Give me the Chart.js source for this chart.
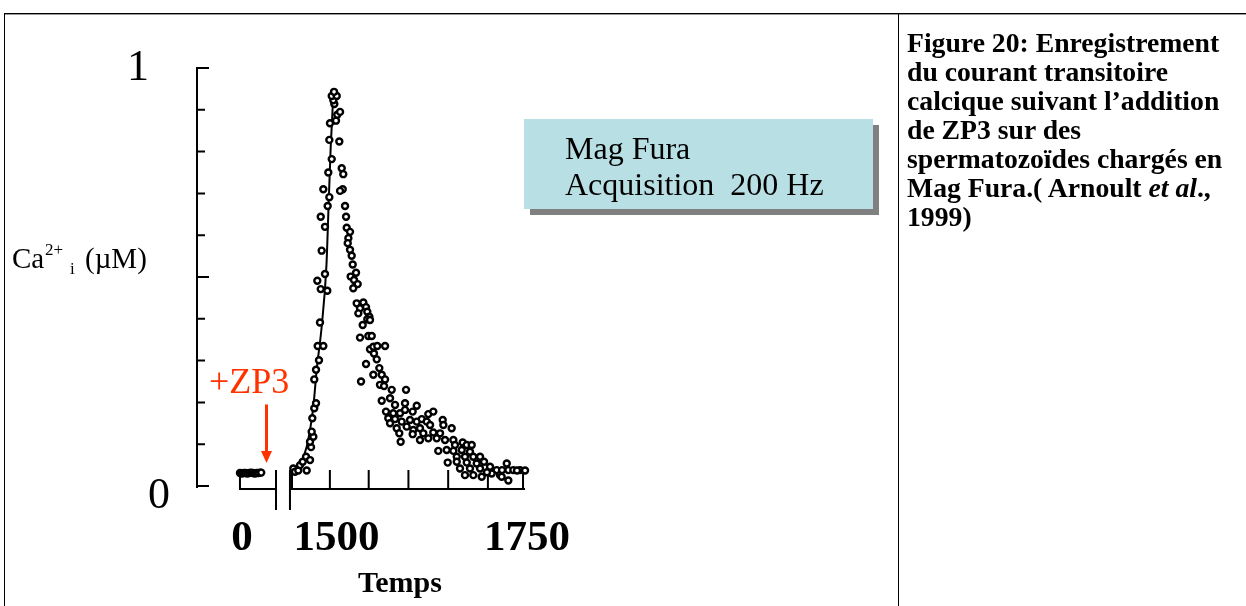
<!DOCTYPE html>
<html>
<head>
<meta charset="utf-8">
<script src="https://cdn.jsdelivr.net/npm/chart.js@4/dist/chart.umd.min.js"></script>
<style>
html,body{margin:0;padding:0;background:#fff;width:1246px;height:606px;overflow:hidden;}
#wrap{position:relative;width:1246px;height:606px;}
#c{position:absolute;left:0;top:0;}
.hl{position:absolute;left:4px;width:1242px;height:1px;}
.vl{position:absolute;top:13px;width:1px;height:593px;background:#000;}
#caption{position:absolute;left:907px;top:28px;white-space:nowrap;font:bold 27.7px "Liberation Serif","Times New Roman",serif;line-height:29px;color:#000;}
#legendBox{position:absolute;left:524px;top:119px;width:349px;height:90px;background:#b8e0e4;box-shadow:6px 6px 0 #808080;}
#legendText{position:absolute;left:41px;top:11px;white-space:nowrap;font:32px "Liberation Serif","Times New Roman",serif;line-height:36px;color:#000;}
</style>
</head>
<body>
<div id="wrap">
  <div class="hl" style="top:13px;background:#000;"></div>
  <div class="hl" style="top:14px;background:#9a9a9a;"></div>
  <div class="vl" style="left:4px;"></div>
  <div class="vl" style="left:898px;"></div>
  <canvas id="c" width="1246" height="606"></canvas>
  <div id="legendBox"><div id="legendText">Mag Fura<br>Acquisition&nbsp; 200 Hz</div></div>
  <div id="caption">Figure 20: Enregistrement<br>du courant transitoire<br>calcique suivant l’addition<br>de ZP3 sur des<br>spermatozoïdes chargés en<br>Mag Fura.( Arnoult <i>et al</i>.,<br>1999)</div>
</div>
<script>
// ---- data ----
const leftTimes  = [0, 2, 4, 6, 8, 10, 12, 14, 16, 18, 20, 22, 23];
const leftValues = [0.031, 0.030, 0.031, 0.031, 0.030, 0.031, 0.032, 0.031, 0.030, 0.031, 0.031, 0.032, 0.032];

const sweepTimes = [
 1501.4,1503.2,1506.8,1508.7,1511.6,1515.2,1515.9,1519.5,1520.6,1519.5,
 1523.1,1521.3,1522.0,1524.1,1526.0,1524.1,1526.0,1529.2,1527.8,1533.9,
 1530.3,1531.1,1538.2,1527.4,1535.7,1532.1,1535.7,1531.1,1538.6,1540.4,
 1533.9,1539.3,1543.0,1540.4,1541.1,1547.6,1549.0,1552.0,1545.8,1544.7,
 1543.0,1548.4,1545.5,
 1551.2,1553.8,1555.5,1554.9,1552.0,1557.4,1558.5,1559.2,1562.8,1561.0,
 1560.3,1562.8,1564.6,1565.7,1569.3,1563.5,1567.1,1571.1,1566.3,1570.0,
 1577.2,1573.6,1580.1,1581.5,1571.8,1583.7,1581.5,1584.4,1576.5,1573.6,
 1582.6,1586.3,1584.4,1588.0,1592.3,1600.7,1588.7,1591.7,1580.1,1594.5,
 1588.0,1597.1,1600.7,1574.7,1595.2,1599.6,1607.9,1623.4,1597.1,1606.1,
 1611.5,1622.3,1635.0,1601.7,1609.6,1616.9,1622.3,1630.6,1647.5,1652.9,
 1604.2,1611.5,1606.1,1618.7,1627.7,1635.0,1640.4,1645.8,1663.1,1613.3,
 1624.1,1631.3,1638.5,1649.4,1663.8,1616.1,1630.6,1642.1,1652.9,1660.2,
 1672.8,1617.6,1638.5,1647.5,1656.6,1665.6,1674.6,1684.7,1676.4,1689.1,
 1694.5,1658.3,1667.4,1674.6,1683.7,1692.6,1678.3,1687.2,1696.2,1703.5,
 1668.5,1678.3,1689.1,1699.9,1707.8,1681.8,1692.6,1703.5,1714.3,1721.5,
 1732.4,1687.2,1696.2,1705.3,1716.1,1725.1,1734.1,1739.5,1746.8,1752.2,
 1734.1,1726.9,1711.0,1727.3,1743.5
];
const sweepValues = [
 0.042,0.034,0.037,0.050,0.058,0.070,0.037,0.062,0.093,0.106,
 0.118,0.130,0.162,0.186,0.198,0.255,0.278,0.301,0.335,0.335,
 0.391,0.471,0.467,0.491,0.507,0.563,0.620,0.644,0.670,0.691,
 0.710,0.750,0.782,0.828,0.868,0.874,0.888,0.895,0.914,0.923,
 0.933,0.933,0.943,
 0.824,0.760,0.746,0.710,0.706,0.670,0.644,0.618,0.608,0.593,
 0.581,0.565,0.551,0.530,0.510,0.501,0.493,0.483,0.473,0.437,
 0.439,0.425,0.428,0.417,0.413,0.405,0.399,0.397,0.385,0.355,
 0.359,0.359,0.327,0.333,0.335,0.335,0.317,0.303,0.292,0.282,
 0.266,0.266,0.255,0.250,0.242,0.239,0.230,0.230,0.204,0.210,
 0.194,0.198,0.192,0.178,0.174,0.174,0.182,0.178,0.172,0.178,
 0.162,0.160,0.150,0.154,0.158,0.154,0.160,0.154,0.158,0.138,
 0.142,0.134,0.138,0.146,0.146,0.126,0.124,0.126,0.128,0.126,
 0.138,0.106,0.110,0.114,0.114,0.110,0.110,0.104,0.098,0.098,
 0.098,0.084,0.086,0.084,0.086,0.082,0.070,0.070,0.070,0.070,
 0.056,0.058,0.056,0.054,0.058,0.042,0.042,0.042,0.046,0.038,
 0.054,0.026,0.026,0.022,0.030,0.026,0.038,0.038,0.038,0.037,
 0.013,0.022,0.033,0.038,0.037
];

const fitTimes  = [1499.7,1508.7,1515.9,1523.1,1526.7,1532.1,1537.3,1539.3,1541.9,1543.0,1544.4];
const fitValues = [0.038,0.053,0.094,0.190,0.278,0.381,0.529,0.652,0.812,0.860,0.923];

const yTickValues   = [0,0.1,0.2,0.3,0.4,0.5,0.6,0.7,0.8,0.9,1];
const yMajorTicks   = [0,0.5,1];
const yLabelValues  = [1,0];
const yLabelTexts   = ['1','0'];
const xLeftTicks    = [0];
const xRightTicks   = [1500,1541,1583,1626,1669,1712,1750];
const xLeftLabels   = ['0'];
const xLeftLabelValues  = [0];
const xRightLabels  = ['1500','1750'];
const xRightLabelValues = [1500,1750];
const leftAxisEnd = 39;        // end of first axis segment (left units)
const rightAxisStart = 1497.8; // start of second segment
const arrowAt = {x: 28.7, from: 0.195, to: 0.055};

// ---- style ----
const SERIF = '"Liberation Serif","Times New Roman",serif';
const RED = '#ff3300';
const yLabelOffset = {'1': {dx:-59, dy:12}, '0': {dx:-38, dy:22}};
const xLabelOffset = {'0': 2, '1500': 44.5, '1750': 4};

const pts = (xs, ys) => xs.map((x, i) => ({x, y: ys[i]}));

const axesPlugin = {
  id: 'brokenAxes',
  beforeDatasetsDraw(chart) {
    const {ctx, chartArea: ca} = chart;
    const y = chart.scales.y, xl = chart.scales.xL, xr = chart.scales.xR;
    const y0 = y.getPixelForValue(0), y1 = y.getPixelForValue(1);
    const base = y0 + 3;
    ctx.save();
    ctx.strokeStyle = '#000';
    ctx.lineWidth = 2;
    ctx.beginPath();
    ctx.moveTo(ca.left, y1 - 1); ctx.lineTo(ca.left, y0 + 2);
    yTickValues.forEach(v => {
      const p = y.getPixelForValue(v);
      const len = yMajorTicks.includes(v) ? 12 : 8;
      ctx.moveTo(ca.left, p); ctx.lineTo(ca.left + len, p);
    });
    ctx.stroke();
    ctx.beginPath();
    ctx.moveTo(xl.getPixelForValue(xLeftTicks[0]), base);
    ctx.lineTo(xl.getPixelForValue(leftAxisEnd), base);
    xLeftTicks.forEach(v => {
      const p = xl.getPixelForValue(v);
      ctx.moveTo(p, base + 1); ctx.lineTo(p, base - 14);
    });
    ctx.moveTo(xr.getPixelForValue(rightAxisStart), base);
    ctx.lineTo(xr.getPixelForValue(xRightTicks[xRightTicks.length - 1]) + 2, base);
    xRightTicks.forEach(v => {
      const p = xr.getPixelForValue(v);
      ctx.moveTo(p, base + 1); ctx.lineTo(p, base - 19);
    });
    [xl.getPixelForValue(leftAxisEnd), xr.getPixelForValue(rightAxisStart)].forEach(p => {
      ctx.moveTo(p, base - 19); ctx.lineTo(p, base + 21);
    });
    ctx.stroke();
    ctx.restore();
  },
  afterDatasetsDraw(chart) {
    const {ctx, chartArea: ca} = chart;
    const y = chart.scales.y, xl = chart.scales.xL, xr = chart.scales.xR;
    const y0 = y.getPixelForValue(0);
    ctx.save();
    ctx.fillStyle = '#000';
    ctx.textBaseline = 'alphabetic';
    ctx.font = '44px ' + SERIF;
    ctx.textAlign = 'center';
    yLabelValues.forEach((v, i) => {
      const t = yLabelTexts[i], o = yLabelOffset[t];
      ctx.fillText(t, ca.left + o.dx, y.getPixelForValue(v) + o.dy);
    });
    ctx.font = 'bold 43px ' + SERIF;
    xLeftLabelValues.forEach((v, i) => {
      const t = xLeftLabels[i];
      ctx.fillText(t, xl.getPixelForValue(v) + xLabelOffset[t], y0 + 64);
    });
    xRightLabelValues.forEach((v, i) => {
      const t = xRightLabels[i];
      ctx.fillText(t, xr.getPixelForValue(v) + xLabelOffset[t], y0 + 64);
    });
    ctx.font = 'bold 30px ' + SERIF;
    ctx.fillText('Temps', 400, y0 + 106);
    // y title  Ca2+i (µM)
    ctx.textAlign = 'left';
    ctx.font = '29px ' + SERIF;
    ctx.fillText('Ca', 12, 268);
    ctx.font = '17px ' + SERIF;
    ctx.fillText('2+', 45, 255);
    ctx.fillText('i', 70, 274);
    ctx.font = '29px ' + SERIF;
    ctx.fillText('(\u00b5M)', 85, 268);
    // +ZP3 annotation and arrow
    ctx.fillStyle = RED;
    ctx.strokeStyle = RED;
    ctx.font = '36px ' + SERIF;
    ctx.fillText('+ZP3', 209, 393);
    const ax = xl.getPixelForValue(arrowAt.x);
    const ya = y.getPixelForValue(arrowAt.from), yb = y.getPixelForValue(arrowAt.to);
    ctx.lineWidth = 3;
    ctx.beginPath(); ctx.moveTo(ax, ya); ctx.lineTo(ax, yb - 10); ctx.stroke();
    ctx.beginPath();
    ctx.moveTo(ax - 5.5, yb - 12); ctx.lineTo(ax + 5.5, yb - 12); ctx.lineTo(ax, yb);
    ctx.closePath(); ctx.fill();
    ctx.restore();
  }
};

const pointStyle = {
  showLine: false, pointRadius: 3, pointHoverRadius: 3, borderWidth: 2.4,
  borderColor: '#000', backgroundColor: '#fff', clip: false
};

new Chart(document.getElementById('c'), {
  type: 'scatter',
  data: {
    datasets: [
      Object.assign({label: 'avant', xAxisID: 'xL', yAxisID: 'y', data: pts(leftTimes, leftValues)}, pointStyle),
      Object.assign({label: 'Mag Fura', xAxisID: 'xR', yAxisID: 'y', data: pts(sweepTimes, sweepValues)}, pointStyle),
      {label: 'fit', type: 'line', xAxisID: 'xR', yAxisID: 'y', data: pts(fitTimes, fitValues),
       showLine: true, pointRadius: 0, borderColor: '#000', borderWidth: 2, fill: false,
       cubicInterpolationMode: 'monotone', clip: false}
    ]
  },
  options: {
    responsive: false, animation: false, devicePixelRatio: 1,
    layout: {padding: {left: 197, top: 68, right: 719, bottom: 120}},
    plugins: {legend: {display: false}, tooltip: {enabled: false}},
    events: [],
    scales: {
      xL: {type: 'linear', display: false, min: -46.5, max: 310.6},
      xR: {type: 'linear', display: false, min: 1397.2, max: 1754.3},
      y:  {type: 'linear', display: false, min: 0, max: 1}
    }
  },
  plugins: [axesPlugin]
});
</script>
</body>
</html>
